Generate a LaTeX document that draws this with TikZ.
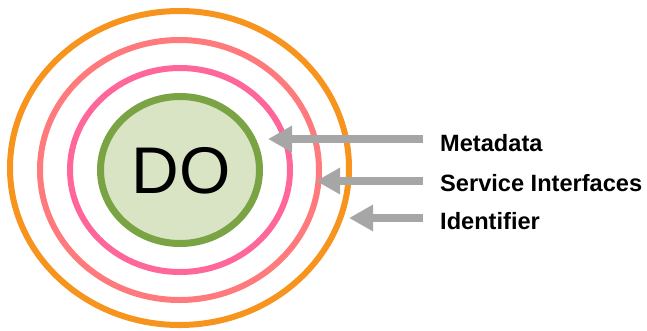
\documentclass[tikz,border=0pt]{standalone}
\usepackage{fontspec}
\setmainfont{Liberation Sans}
\usetikzlibrary{arrows.meta}

\definecolor{ringorange}{HTML}{F7941D}
\definecolor{ringsalmon}{HTML}{FF7A7C}
\definecolor{ringpink}{HTML}{FF6699}
\definecolor{dogreen}{HTML}{7AA443}
\definecolor{dofill}{HTML}{D8E4C4}
\definecolor{arrowgray}{HTML}{A6A6A6}

\begin{document}
\begin{tikzpicture}[x=1pt,y=-1pt]
\tikzstyle{every node}+=[inner sep=0pt]
\tikzstyle{ring}=[line width=6pt]
\tikzstyle{pointer}=[draw=arrowgray, line width=7.5pt, -{Triangle[length=24pt,width=25pt]}]
\tikzstyle{lbl}=[anchor=base west, font=\fontsize{23.6}{28}\selectfont\bfseries]
\useasboundingbox (0,0) rectangle (647,330);
% layers round the digital object
\draw [ring, ringorange] (179.5,168) ellipse (169.5 and 157);
\draw [ring, ringsalmon] (179.5,170) ellipse (139.5 and 130);
\draw [ring, ringpink] (180,170) ellipse (110 and 102);
\draw [line width=7pt, draw=dogreen, fill=dofill] (180,170) ellipse (79.5 and 73.5);
\node (do) at (181,171) {\fontsize{66}{66}\selectfont DO};
% labels
\node [lbl] (meta) at (440,151.7) {Metadata};
\node [lbl] (serv) at (440,191.7) {Service Interfaces};
\node [lbl] (ident) at (440,229.3) {Identifier};
% arrows
\coordinate (metatail) at (423,139);
\coordinate (metatip) at (268,139);
\coordinate (servtail) at (423,181);
\coordinate (servtip) at (316,181);
\coordinate (identtail) at (423,218);
\coordinate (identtip) at (349,218);
\draw [pointer] (metatail) -- (metatip);
\draw [pointer] (servtail) -- (servtip);
\draw [pointer] (identtail) -- (identtip);
\end{tikzpicture}
\end{document}
